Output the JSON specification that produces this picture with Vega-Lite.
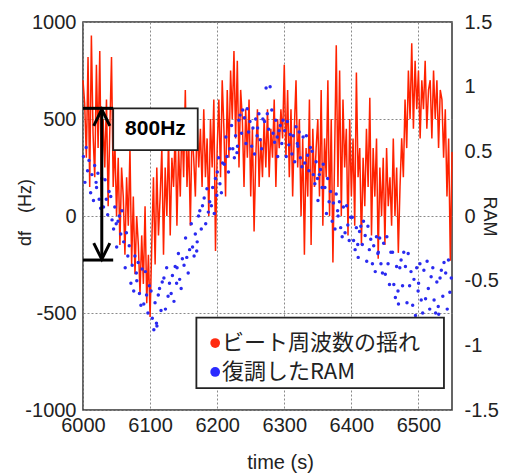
{
"$schema":"https://vega.github.io/schema/vega-lite/v6.json",
"width":369,"height":388,
"autosize":{"type":"none"},
"padding":{"left":83,"top":22,"right":74,"bottom":63},
"background":"white",
"config":{
 "view":{"stroke":"#333","strokeWidth":1.5},
 "axis":{"labelFont":"Liberation Sans","labelFontSize":20,"labelColor":"#222","titleFont":"Liberation Sans","titleFontSize":18,"titleFontWeight":"normal","titleColor":"#222","domain":false,"ticks":false,"grid":true,"gridColor":"#8a8a8a","gridDash":[2,2],"gridWidth":1,"labelOverlap":false,"labelFlush":false}
},
"datasets":{
"beat":[
{"t":6000,"v":700},{"t":6002.5,"v":580},{"t":6005,"v":300},{"t":6007.5,"v":820},{"t":6010,"v":150},{"t":6012.5,"v":930},{"t":6015,"v":420},{"t":6017.5,"v":200},{"t":6020,"v":780},{"t":6022.5,"v":350},
{"t":6025,"v":850},{"t":6027.5,"v":100},{"t":6030,"v":500},{"t":6032.5,"v":250},{"t":6035,"v":600},{"t":6037.5,"v":50},{"t":6040,"v":450},{"t":6042.5,"v":820},{"t":6045,"v":150},{"t":6047.5,"v":380},
{"t":6050,"v":0},{"t":6052.5,"v":300},{"t":6055,"v":-150},{"t":6057.5,"v":250},{"t":6060,"v":100},{"t":6062.5,"v":-200},{"t":6065,"v":200},{"t":6067.5,"v":-50},{"t":6070,"v":350},{"t":6072.5,"v":-250},
{"t":6075,"v":100},{"t":6077.5,"v":-300},{"t":6080,"v":0},{"t":6082.5,"v":-150},{"t":6085,"v":-400},{"t":6087.5,"v":-100},{"t":6090,"v":-350},{"t":6092.5,"v":50},{"t":6095,"v":-450},{"t":6097.5,"v":-200},
{"t":6100,"v":-520},{"t":6102.5,"v":-150},{"t":6105,"v":200},{"t":6107.5,"v":-250},{"t":6110,"v":250},{"t":6112.5,"v":-100},{"t":6115,"v":100},{"t":6117.5,"v":350},{"t":6120,"v":-200},{"t":6122.5,"v":250},
{"t":6125,"v":0},{"t":6127.5,"v":400},{"t":6130,"v":-100},{"t":6132.5,"v":300},{"t":6135,"v":150},{"t":6137.5,"v":450},{"t":6140,"v":-50},{"t":6142.5,"v":350},{"t":6145,"v":100},{"t":6147.5,"v":500},
{"t":6150,"v":200},{"t":6152.5,"v":650},{"t":6155,"v":150},{"t":6157.5,"v":400},{"t":6160,"v":-50},{"t":6162.5,"v":450},{"t":6165,"v":300},{"t":6167.5,"v":100},{"t":6170,"v":500},{"t":6172.5,"v":250},
{"t":6175,"v":450},{"t":6177.5,"v":150},{"t":6180,"v":550},{"t":6182.5,"v":200},{"t":6185,"v":400},{"t":6187.5,"v":0},{"t":6190,"v":500},{"t":6192.5,"v":250},{"t":6195,"v":600},{"t":6197.5,"v":-180},
{"t":6200,"v":350},{"t":6202.5,"v":600},{"t":6205,"v":200},{"t":6207.5,"v":700},{"t":6210,"v":450},{"t":6212.5,"v":100},{"t":6215,"v":650},{"t":6217.5,"v":300},{"t":6220,"v":750},{"t":6222.5,"v":500},
{"t":6225,"v":850},{"t":6227.5,"v":400},{"t":6230,"v":800},{"t":6232.5,"v":250},{"t":6235,"v":650},{"t":6237.5,"v":500},{"t":6240,"v":150},{"t":6242.5,"v":550},{"t":6245,"v":300},{"t":6247.5,"v":600},
{"t":6250,"v":100},{"t":6252.5,"v":450},{"t":6255,"v":-80},{"t":6257.5,"v":300},{"t":6260,"v":550},{"t":6262.5,"v":150},{"t":6265,"v":400},{"t":6267.5,"v":200},{"t":6270,"v":500},{"t":6272.5,"v":250},
{"t":6275,"v":550},{"t":6277.5,"v":200},{"t":6280,"v":450},{"t":6282.5,"v":300},{"t":6285,"v":600},{"t":6287.5,"v":150},{"t":6290,"v":500},{"t":6292.5,"v":350},{"t":6295,"v":550},{"t":6297.5,"v":400},
{"t":6300,"v":780},{"t":6302.5,"v":300},{"t":6305,"v":650},{"t":6307.5,"v":200},{"t":6310,"v":550},{"t":6312.5,"v":100},{"t":6315,"v":450},{"t":6317.5,"v":700},{"t":6320,"v":250},{"t":6322.5,"v":500},
{"t":6325,"v":0},{"t":6327.5,"v":400},{"t":6330,"v":-200},{"t":6332.5,"v":350},{"t":6335,"v":100},{"t":6337.5,"v":600},{"t":6340,"v":-150},{"t":6342.5,"v":450},{"t":6345,"v":150},{"t":6347.5,"v":350},
{"t":6350,"v":500},{"t":6352.5,"v":100},{"t":6355,"v":650},{"t":6357.5,"v":-50},{"t":6360,"v":400},{"t":6362.5,"v":200},{"t":6365,"v":700},{"t":6367.5,"v":0},{"t":6370,"v":500},{"t":6372.5,"v":-240},
{"t":6375,"v":300},{"t":6377.5,"v":880},{"t":6380,"v":150},{"t":6382.5,"v":750},{"t":6385,"v":0},{"t":6387.5,"v":600},{"t":6390,"v":250},{"t":6392.5,"v":450},{"t":6395,"v":-100},{"t":6397.5,"v":500},
{"t":6400,"v":100},{"t":6402.5,"v":400},{"t":6405,"v":-50},{"t":6407.5,"v":740},{"t":6410,"v":200},{"t":6412.5,"v":350},{"t":6415,"v":-150},{"t":6417.5,"v":300},{"t":6420,"v":50},{"t":6422.5,"v":450},
{"t":6425,"v":150},{"t":6427.5,"v":610},{"t":6430,"v":-100},{"t":6432.5,"v":350},{"t":6435,"v":100},{"t":6437.5,"v":400},{"t":6440,"v":-220},{"t":6442.5,"v":250},{"t":6445,"v":0},{"t":6447.5,"v":300},
{"t":6450,"v":-150},{"t":6452.5,"v":350},{"t":6455,"v":50},{"t":6457.5,"v":200},{"t":6460,"v":-50},{"t":6462.5,"v":400},{"t":6465,"v":0},{"t":6467.5,"v":250},{"t":6470,"v":-190},{"t":6472.5,"v":150},
{"t":6475,"v":400},{"t":6477.5,"v":200},{"t":6480,"v":600},{"t":6482.5,"v":350},{"t":6485,"v":750},{"t":6487.5,"v":500},{"t":6490,"v":890},{"t":6492.5,"v":450},{"t":6495,"v":800},{"t":6497.5,"v":550},
{"t":6500,"v":750},{"t":6502.5,"v":400},{"t":6505,"v":700},{"t":6507.5,"v":550},{"t":6510,"v":800},{"t":6512.5,"v":450},{"t":6515,"v":650},{"t":6517.5,"v":700},{"t":6520,"v":400},{"t":6522.5,"v":750},
{"t":6525,"v":500},{"t":6527.5,"v":700},{"t":6530,"v":350},{"t":6532.5,"v":650},{"t":6535,"v":600},{"t":6537.5,"v":300},{"t":6540,"v":550},{"t":6542.5,"v":100},{"t":6545,"v":400},{"t":6547.5,"v":-230},
{"t":6550,"v":330}
],
"ram":[
{"t":6000.6,"r":0.46},{"t":6002.9,"r":0.26},{"t":6004.7,"r":0.53},{"t":6006.8,"r":0.35},{"t":6008.9,"r":0.43},
{"t":6011.4,"r":0.18},{"t":6013.3,"r":0.32},{"t":6015.6,"r":0.12},{"t":6017.4,"r":0.39},{"t":6019.5,"r":0.26},
{"t":6020.2,"r":0.22},{"t":6022.2,"r":0.33},{"t":6024.1,"r":0.13},{"t":6026.3,"r":0.06},{"t":6028.1,"r":0.29},
{"t":6030.6,"r":0.07},{"t":6032.9,"r":0.28},{"t":6034.7,"r":0.13},{"t":6036.8,"r":0.01},{"t":6038.9,"r":0.19},
{"t":6041.4,"r":0.15},{"t":6043.3,"r":-0.03},{"t":6045.6,"r":-0.1},{"t":6047.4,"r":0.07},{"t":6049.5,"r":-0.06},
{"t":6050.2,"r":-0.24},{"t":6052.2,"r":-0.04},{"t":6054.1,"r":0.0},{"t":6056.3,"r":-0.14},{"t":6058.1,"r":0.04},
{"t":6060.6,"r":-0.2},{"t":6062.9,"r":-0.4},{"t":6064.7,"r":-0.13},{"t":6066.8,"r":-0.31},{"t":6068.9,"r":-0.23},
{"t":6071.4,"r":-0.52},{"t":6073.3,"r":-0.38},{"t":6075.6,"r":-0.58},{"t":6077.4,"r":-0.31},{"t":6079.5,"r":-0.44},
{"t":6080.2,"r":-0.5},{"t":6082.2,"r":-0.36},{"t":6084.1,"r":-0.6},{"t":6086.3,"r":-0.69},{"t":6088.1,"r":-0.41},
{"t":6090.6,"r":-0.68},{"t":6092.9,"r":-0.43},{"t":6094.7,"r":-0.61},{"t":6096.8,"r":-0.75},{"t":6098.9,"r":-0.54},
{"t":6101.4,"r":-0.58},{"t":6103.3,"r":-0.79},{"t":6105.6,"r":-0.88},{"t":6107.4,"r":-0.67},{"t":6109.5,"r":-0.83},
{"t":6110.2,"r":-0.85},{"t":6112.2,"r":-0.61},{"t":6114.1,"r":-0.56},{"t":6116.3,"r":-0.73},{"t":6118.1,"r":-0.51},
{"t":6120.6,"r":-0.48},{"t":6122.9,"r":-0.72},{"t":6124.7,"r":-0.4},{"t":6126.8,"r":-0.62},{"t":6128.9,"r":-0.52},
{"t":6131.4,"r":-0.6},{"t":6133.3,"r":-0.46},{"t":6135.6,"r":-0.66},{"t":6137.4,"r":-0.39},{"t":6139.5,"r":-0.52},
{"t":6140.2,"r":-0.4},{"t":6142.2,"r":-0.29},{"t":6144.1,"r":-0.49},{"t":6146.3,"r":-0.56},{"t":6148.1,"r":-0.33},
{"t":6150.6,"r":-0.38},{"t":6152.9,"r":-0.17},{"t":6154.7,"r":-0.32},{"t":6156.8,"r":-0.44},{"t":6158.9,"r":-0.26},
{"t":6161.4,"r":-0.06},{"t":6163.3,"r":-0.24},{"t":6165.6,"r":-0.31},{"t":6167.4,"r":-0.14},{"t":6169.5,"r":-0.27},
{"t":6170.2,"r":-0.2},{"t":6172.2,"r":0.0},{"t":6174.1,"r":0.04},{"t":6176.3,"r":-0.1},{"t":6178.1,"r":0.08},
{"t":6180.6,"r":0.14},{"t":6182.9,"r":-0.06},{"t":6184.7,"r":0.21},{"t":6186.8,"r":0.03},{"t":6188.9,"r":0.11},
{"t":6191.4,"r":0.08},{"t":6193.3,"r":0.22},{"t":6195.6,"r":0.02},{"t":6197.4,"r":0.29},{"t":6199.5,"r":0.16},
{"t":6200.2,"r":0.34},{"t":6202.2,"r":0.45},{"t":6204.1,"r":0.25},{"t":6206.3,"r":0.18},{"t":6208.1,"r":0.41},
{"t":6210.6,"r":0.4},{"t":6212.9,"r":0.61},{"t":6214.7,"r":0.46},{"t":6216.8,"r":0.34},{"t":6218.9,"r":0.52},
{"t":6221.4,"r":0.7},{"t":6223.3,"r":0.52},{"t":6225.6,"r":0.45},{"t":6227.4,"r":0.62},{"t":6229.5,"r":0.49},
{"t":6230.2,"r":0.54},{"t":6232.2,"r":0.74},{"t":6234.1,"r":0.78},{"t":6236.3,"r":0.64},{"t":6238.1,"r":0.82},
{"t":6240.6,"r":0.76},{"t":6242.9,"r":0.56},{"t":6244.7,"r":0.83},{"t":6246.8,"r":0.65},{"t":6248.9,"r":0.73},
{"t":6251.4,"r":0.54},{"t":6253.3,"r":0.68},{"t":6255.6,"r":0.48},{"t":6257.4,"r":0.75},{"t":6259.5,"r":0.62},
{"t":6260.2,"r":0.68},{"t":6262.2,"r":0.79},{"t":6264.1,"r":0.59},{"t":6266.3,"r":0.52},{"t":6268.1,"r":0.75},
{"t":6270.6,"r":0.73},{"t":6272.9,"r":0.99},{"t":6274.7,"r":0.79},{"t":6276.8,"r":0.67},{"t":6278.9,"r":1.0},
{"t":6281.4,"r":0.82},{"t":6283.3,"r":0.64},{"t":6285.6,"r":0.57},{"t":6287.4,"r":0.74},{"t":6289.5,"r":0.61},
{"t":6290.2,"r":0.46},{"t":6292.2,"r":0.66},{"t":6294.1,"r":0.7},{"t":6296.3,"r":0.56},{"t":6298.1,"r":0.74},
{"t":6300.6,"r":0.66},{"t":6302.9,"r":0.46},{"t":6304.7,"r":0.73},{"t":6306.8,"r":0.55},{"t":6308.9,"r":0.63},
{"t":6311.4,"r":0.48},{"t":6313.3,"r":0.62},{"t":6315.6,"r":0.42},{"t":6317.4,"r":0.69},{"t":6319.5,"r":0.56},
{"t":6320.2,"r":0.54},{"t":6322.2,"r":0.65},{"t":6324.1,"r":0.45},{"t":6326.3,"r":0.38},{"t":6328.1,"r":0.61},
{"t":6330.6,"r":0.41},{"t":6332.9,"r":0.62},{"t":6334.7,"r":0.47},{"t":6336.8,"r":0.35},{"t":6338.9,"r":0.53},
{"t":6341.4,"r":0.5},{"t":6343.3,"r":0.32},{"t":6345.6,"r":0.25},{"t":6347.4,"r":0.42},{"t":6349.5,"r":0.29},
{"t":6350.2,"r":0.12},{"t":6352.2,"r":0.32},{"t":6354.1,"r":0.36},{"t":6356.3,"r":0.22},{"t":6358.1,"r":0.4},
{"t":6360.6,"r":0.22},{"t":6362.9,"r":0.02},{"t":6364.7,"r":0.29},{"t":6366.8,"r":0.11},{"t":6368.9,"r":0.19},
{"t":6371.4,"r":-0.04},{"t":6373.3,"r":0.1},{"t":6375.6,"r":-0.1},{"t":6377.4,"r":0.17},{"t":6379.5,"r":0.04},
{"t":6380.2,"r":0.0},{"t":6382.2,"r":0.11},{"t":6384.1,"r":-0.09},{"t":6386.3,"r":-0.16},{"t":6388.1,"r":0.07},
{"t":6390.6,"r":-0.13},{"t":6392.9,"r":0.08},{"t":6394.7,"r":-0.07},{"t":6396.8,"r":-0.19},{"t":6398.9,"r":-0.01},
{"t":6401.4,"r":-0.01},{"t":6403.3,"r":-0.19},{"t":6405.6,"r":-0.26},{"t":6407.4,"r":-0.09},{"t":6409.5,"r":-0.22},
{"t":6410.2,"r":-0.32},{"t":6412.2,"r":-0.12},{"t":6414.1,"r":-0.08},{"t":6416.3,"r":-0.22},{"t":6418.1,"r":-0.04},
{"t":6420.6,"r":-0.15},{"t":6422.9,"r":-0.35},{"t":6424.7,"r":-0.08},{"t":6426.8,"r":-0.26},{"t":6428.9,"r":-0.18},
{"t":6431.4,"r":-0.37},{"t":6433.3,"r":-0.23},{"t":6435.6,"r":-0.43},{"t":6437.4,"r":-0.16},{"t":6439.5,"r":-0.29},
{"t":6440.2,"r":-0.28},{"t":6442.2,"r":-0.17},{"t":6444.1,"r":-0.37},{"t":6446.3,"r":-0.44},{"t":6448.1,"r":-0.21},
{"t":6450.6,"r":-0.45},{"t":6452.9,"r":-0.16},{"t":6454.7,"r":-0.37},{"t":6456.8,"r":-0.53},{"t":6458.9,"r":-0.28},
{"t":6461.4,"r":-0.28},{"t":6463.3,"r":-0.53},{"t":6465.6,"r":-0.63},{"t":6467.4,"r":-0.39},{"t":6469.5,"r":-0.58},
{"t":6470.2,"r":-0.68},{"t":6472.2,"r":-0.4},{"t":6474.1,"r":-0.34},{"t":6476.3,"r":-0.54},{"t":6478.1,"r":-0.28},
{"t":6480.6,"r":-0.39},{"t":6482.9,"r":-0.67},{"t":6484.7,"r":-0.29},{"t":6486.8,"r":-0.54},{"t":6488.9,"r":-0.43},
{"t":6491.4,"r":-0.69},{"t":6493.3,"r":-0.49},{"t":6495.6,"r":-0.77},{"t":6497.4,"r":-0.4},{"t":6499.5,"r":-0.58},
{"t":6500.2,"r":-0.52},{"t":6502.2,"r":-0.37},{"t":6504.1,"r":-0.65},{"t":6506.3,"r":-0.75},{"t":6508.1,"r":-0.42},
{"t":6510.6,"r":-0.64},{"t":6512.9,"r":-0.35},{"t":6514.7,"r":-0.56},{"t":6516.8,"r":-0.72},{"t":6518.9,"r":-0.47},
{"t":6521.4,"r":-0.4},{"t":6523.3,"r":-0.65},{"t":6525.6,"r":-0.75},{"t":6527.4,"r":-0.51},{"t":6529.5,"r":-0.7},
{"t":6530.2,"r":-0.76},{"t":6532.2,"r":-0.48},{"t":6534.1,"r":-0.42},{"t":6536.3,"r":-0.62},{"t":6538.1,"r":-0.36},
{"t":6540.6,"r":-0.44},{"t":6542.9,"r":-0.72},{"t":6544.7,"r":-0.34},{"t":6546.8,"r":-0.59},{"t":6548.9,"r":-0.48}
]
},
"encoding":{"x":{"field":"t","type":"quantitative","title":"time (s)","scale":{"domain":[6000,6550],"nice":false,"zero":false},"axis":{"values":[6000,6100,6200,6300,6400,6500],"labelExpr":"'' + datum.value","labelPadding":5,"titleFontSize":20,"titleX":197,"titleY":52,"titleBaseline":"middle"}}},
"layer":[
 {"data":{"name":"beat"},"mark":{"type":"line","color":"#ff2200","strokeWidth":1.5},
  "encoding":{"y":{"field":"v","type":"quantitative","title":"df　(Hz)","scale":{"domain":[-1000,1000],"nice":false,"zero":false},
   "axis":{"values":[-1000,-500,0,500,1000],"labelExpr":"'' + datum.value","labelPadding":7,"titleAngle":-90,"titleX":-58,"titleY":190,"titleAlign":"center","titleBaseline":"middle"}}}},
 {"data":{"name":"ram"},"mark":{"type":"circle","color":"#2a2af0","size":12,"opacity":1},
  "encoding":{"y":{"field":"r","type":"quantitative","title":"RAM","scale":{"domain":[-1.5,1.5],"nice":false,"zero":false},
   "axis":{"orient":"right","values":[-1.5,-1,-0.5,0,0.5,1,1.5],"labelExpr":"'' + datum.value","labelPadding":12,"titleAngle":90,"titleX":36,"titleY":194,"titleAlign":"center","titleBaseline":"middle"}}}},
 {"layer":[
   {"data":{"values":[{"t":6045,"t2":6171,"v":555,"v2":340},{"t":6169,"t2":6538,"v":-524,"v2":-887}]},
    "mark":{"type":"rect","fill":"white","stroke":"#222","strokeWidth":1.8},
    "encoding":{"x2":{"field":"t2"},"y":{"field":"v","type":"quantitative","scale":{"domain":[-1000,1000],"nice":false,"zero":false},"axis":null},"y2":{"field":"v2"}}},
   {"data":{"values":[
     {"g":"shaft","o":0,"t":6028,"v":548},{"g":"shaft","o":1,"t":6028,"v":-220},
     {"g":"top","o":0,"t":6016,"v":465},{"g":"top","o":1,"t":6028,"v":550},{"g":"top","o":2,"t":6040,"v":465},
     {"g":"bot","o":0,"t":6016,"v":-140},{"g":"bot","o":1,"t":6028,"v":-223},{"g":"bot","o":2,"t":6040,"v":-140},
     {"g":"barT","o":0,"t":6000,"v":555},{"g":"barT","o":1,"t":6045,"v":555},
     {"g":"barB","o":0,"t":6000,"v":-227},{"g":"barB","o":1,"t":6045,"v":-227}]},
    "mark":{"type":"line","color":"black","strokeWidth":3,"strokeJoin":"miter"},
    "encoding":{"y":{"field":"v","type":"quantitative","scale":{"domain":[-1000,1000],"nice":false,"zero":false},"axis":null},"detail":{"field":"g"},"order":{"field":"o"}}},
   {"data":{"values":[{"t":6108,"v":447,"label":"800Hz"}]},
    "mark":{"type":"text","font":"Liberation Sans","fontSize":21,"fontWeight":"bold","color":"black","align":"center","baseline":"middle"},
    "encoding":{"y":{"field":"v","type":"quantitative","scale":{"domain":[-1000,1000],"nice":false,"zero":false},"axis":null},"text":{"field":"label"}}},
   {"data":{"values":[{"t":6197,"v":-655,"c":"#ff2a10"},{"t":6197,"v":-804,"c":"#2a2aff"}]},
    "mark":{"type":"circle","size":95,"opacity":1},
    "encoding":{"y":{"field":"v","type":"quantitative","scale":{"domain":[-1000,1000],"nice":false,"zero":false},"axis":null},"color":{"field":"c","type":"nominal","scale":null}}},
   {"data":{"values":[{"t":6207,"v":-655,"label":"ビート周波数の揺れ"},{"t":6207,"v":-804,"label":"復調したRAM"}]},
    "mark":{"type":"text","font":"Noto Sans CJK JP","fontSize":22,"color":"#222","align":"left","baseline":"middle"},
    "encoding":{"y":{"field":"v","type":"quantitative","scale":{"domain":[-1000,1000],"nice":false,"zero":false},"axis":null},"text":{"field":"label"}}}
 ]}
],
"resolve":{"scale":{"y":"independent"},"axis":{"y":"independent"}}
}
